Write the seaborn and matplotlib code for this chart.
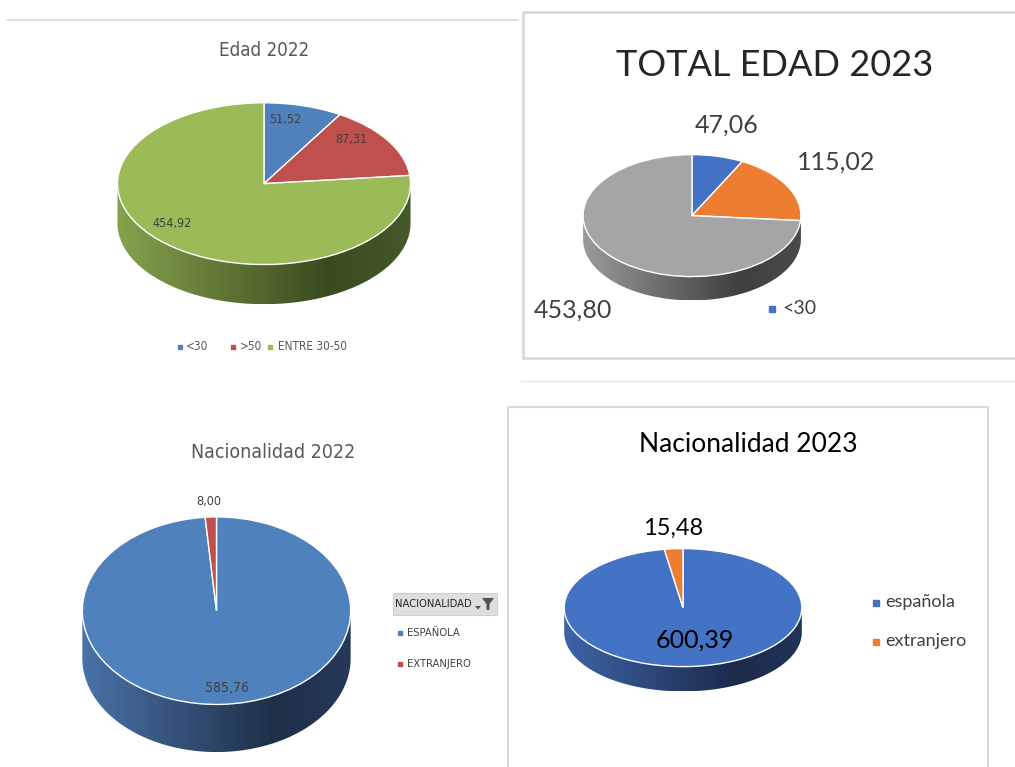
import numpy as np
import matplotlib
matplotlib.use("Agg")
import matplotlib.pyplot as plt
from matplotlib.patches import Polygon, Rectangle
from matplotlib.colors import LinearSegmentedColormap
from matplotlib import font_manager
import seaborn as sns

# ---------------- data ----------------
edad22_cats = ["<30", ">50", "ENTRE 30-50"]
edad22_vals = [51.52, 87.31, 454.92]
edad23_cats = ["<30", ">50", "ENTRE 30-50"]
edad23_vals = [47.06, 115.02, 453.80]
nac22_cats = ["ESPAÑOLA", "EXTRANJERO"]
nac22_vals = [585.76, 8.00]
nac23_cats = ["española", "extranjero"]
nac23_vals = [600.39, 15.48]

titles = ["Edad 2022", "TOTAL EDAD 2023", "Nacionalidad 2022", "Nacionalidad 2023"]

pal07 = sns.color_palette(["#4F81BD", "#C0504D", "#9BBB59"])
pal13 = sns.color_palette(["#4472C4", "#ED7D31", "#A5A5A5"])

sns.set_theme(style="white")
CAL = ["Lato", "DejaVu Sans"]
plt.rcParams["font.family"] = CAL

# look for a condensed / narrow regular font installed on the system
narrow_path = None
for f in font_manager.fontManager.ttflist:
    nm = (f.name + " " + str(f.fname)).lower()
    st = str(f.stretch).lower()
    if ("narrow" in nm or "condensed" in nm or "condensed" in st) and f.style == "normal" \
            and str(f.weight) in ("400", "normal", "regular", "book"):
        narrow_path = f.fname
        break


def nfont(size):
    if narrow_path:
        return dict(fontproperties=font_manager.FontProperties(fname=narrow_path, size=size))
    return dict(family=["Liberation Sans", "DejaVu Sans"], fontsize=size * 0.95)


W, H = 1015, 767
fig = plt.figure(figsize=(W / 100, H / 100), dpi=100)
fig.patch.set_facecolor("white")
ax0 = fig.add_axes([0, 0, 1, 1])
ax0.set_xlim(0, W)
ax0.set_ylim(H, 0)
ax0.axis("off")
ax0.set_zorder(10)
ax0.patch.set_alpha(0)


def fmt(v):
    return f"{v:.2f}".replace(".", ",")


def pie3d(vals, colors, cx, cy, rx, ry, depth, wall_cols):
    rect = [(cx - rx) / W, 1 - (cy + ry + depth) / H, 2 * rx / W, (2 * ry + depth) / H]
    ax = fig.add_axes(rect)
    d = depth / ry
    t = np.linspace(np.pi, 2 * np.pi, 200)
    top = np.column_stack([np.cos(t), np.sin(t)])
    bot = np.column_stack([np.cos(t[::-1]), np.sin(t[::-1]) - d])
    poly = Polygon(np.vstack([top, bot]), closed=True, facecolor="none", edgecolor="none")
    ax.add_patch(poly)
    cmap = LinearSegmentedColormap.from_list("w", list(zip([0, 0.72, 1], wall_cols)))
    grad = np.linspace(0, 1, 256)[None, :]
    im = ax.imshow(grad, cmap=cmap, extent=(-1, 1, -1 - d, 0), aspect="auto", zorder=1)
    im.set_clip_path(poly)
    wedges, _ = ax.pie(vals, colors=colors, startangle=90, counterclock=False,
                       radius=1, center=(0, 0), frame=True,
                       wedgeprops=dict(edgecolor="white", linewidth=1.0))
    for w in wedges:
        w.set_zorder(3)
    ax.set_aspect("auto")
    ax.set_xlim(-1.01, 1.01)
    ax.set_ylim(-1 - d - 0.01, 1.01)
    ax.axis("off")
    return ax


# ---------------- frames / lines ----------------
ax0.plot([7, 518], [20, 20], color="#d9d9d9", lw=1.2)
ax0.plot([521, 1015], [381, 381], color="#e6e6e6", lw=1.0)
ax0.add_patch(Rectangle((523, 12), 520, 346, facecolor="none", edgecolor="#d9d9d9", lw=2.0))
ax0.add_patch(Rectangle((508, 407), 480, 400, facecolor="none", edgecolor="#d9d9d9", lw=1.5))

# ---------------- Edad 2022 ----------------
ax0.text(264, 50, titles[0], ha="center", va="center", color="#595959", **nfont(13.5))
pie3d(edad22_vals, pal07, 264, 183.5, 148, 81.5, 40, ["#86a24c", "#3a4a1f", "#46592a"])
for v, (x, y) in zip(edad22_vals, [(285, 120), (351, 140), (172, 223)]):
    ax0.text(x, y, fmt(v), ha="center", va="center", color="#404040", **nfont(9))
for c, col, (mx, tx) in zip(edad22_cats, pal07, [(180, 186), (233, 240), (270, 278)]):
    ax0.plot(mx, 347, marker="s", ms=3.5, color=col, lw=0)
    ax0.text(tx, 347, c, ha="left", va="center", color="#595959", **nfont(8.5))

# ---------------- TOTAL EDAD 2023 ----------------
ax0.text(775, 66, titles[1], ha="center", va="center", fontsize=26, color="#262626", family=CAL)
pie3d(edad23_vals, pal13, 692, 215.5, 110, 61.5, 24, ["#9a9a9a", "#3f3f3f", "#4a4a4a"])
for v, (x, y) in zip(edad23_vals, [(727, 125), (836, 162), (573, 310)]):
    ax0.text(x, y, fmt(v), ha="center", va="center", fontsize=18, color="#404040", family=CAL)
ax0.plot(772, 309, marker="s", ms=4, color=pal13[0], lw=0)
ax0.text(782, 308, edad23_cats[0], ha="left", va="center", fontsize=14, color="#404040", family=CAL)

# ---------------- Nacionalidad 2022 ----------------
ax0.text(273, 453, titles[2], ha="center", va="center", color="#595959", **nfont(14))
pie3d(nac22_vals, pal07[:2], 216.5, 610.5, 135.5, 94.5, 48, ["#4a73a8", "#1e2f48", "#26395a"])
for v, (x, y), fs in zip(nac22_vals, [(227, 688), (209, 502)], [10, 9]):
    ax0.text(x, y, fmt(v), ha="center", va="center", color="#404040", **nfont(fs))
ax0.add_patch(Rectangle((393, 593), 104, 22, facecolor="#dedede", edgecolor="#cfcfcf", lw=0.8))
ax0.text(395, 604, "NACIONALIDAD", ha="left", va="center", color="#262626", **nfont(8))
ax0.add_patch(Polygon([[482, 598], [494, 598], [489.5, 604], [489.5, 610], [486.5, 610], [486.5, 604]],
                      closed=True, facecolor="#505050", edgecolor="none"))
ax0.add_patch(Polygon([[475, 606], [481, 606], [478, 609.5]], closed=True, facecolor="#505050", edgecolor="none"))
for c, col, y in zip(nac22_cats, pal07[:2], [633, 664]):
    ax0.plot(400, y, marker="s", ms=3.5, color=col, lw=0)
    ax0.text(407, y, c, ha="left", va="center", color="#404040", **nfont(8))

# ---------------- Nacionalidad 2023 ----------------
ax0.text(748, 445, titles[3], ha="center", va="center", fontsize=19, color="#000000", family=CAL)
pie3d(nac23_vals, pal13[:2], 683, 607.5, 120, 59.5, 25, ["#3d64a8", "#1c2a4a", "#22335a"])
for v, (x, y), fs in zip(nac23_vals, [(695, 640), (673, 528)], [18, 17]):
    ax0.text(x, y, fmt(v), ha="center", va="center", fontsize=fs, color="#000000", family=CAL)
for c, col, y in zip(nac23_cats, pal13[:2], [602, 641]):
    ax0.plot(876, y + 1, marker="s", ms=4, color=col, lw=0)
    ax0.text(885, y, c, ha="left", va="center", fontsize=13, color="#404040", family=CAL)

fig.savefig("out.png", dpi=100, facecolor="white")
